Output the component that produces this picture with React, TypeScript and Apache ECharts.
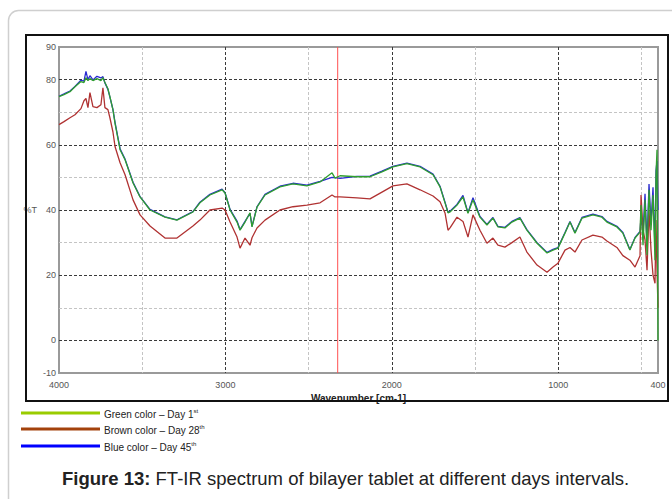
import React, { useEffect, useRef } from "react";
import * as echarts from "echarts";

// Wavenumber (cm-1), descending
const wavenumbers = [
  4000, 3970, 3934, 3904, 3868, 3850, 3838, 3826, 3814, 3796, 3772, 3748, 3736, 3724, 3706, 3694, 3676, 3663, 3633, 3603, 3555, 3513, 3453, 3363, 3291, 3195,
  3153, 3093, 3020, 3002, 2972, 2930, 2912, 2882, 2852, 2840, 2810, 2762, 2672, 2594, 2510, 2431, 2359, 2341, 2311, 2209, 2131, 2059, 1993, 1909, 1830, 1752, 1710, 1680, 1662,
  1650, 1608, 1572, 1542, 1512, 1470, 1428, 1392, 1362, 1320, 1278, 1230, 1188, 1127, 1067, 1031, 1001, 959, 929, 899, 857, 791, 737, 707, 647, 611, 569, 538, 508,
  502, 490, 478, 466, 454, 442, 430, 418, 412, 406, 400,
];

// %T, Day 1 (green)
const day1 = [
  74.8, 75.4, 76.3, 77.8, 79.4, 79.1, 80.6, 79.7, 80.3, 79.7, 80.3, 79.7, 80.6, 79.1, 77.2, 74.8, 70.8, 66.5, 58.5, 55.4, 48.3, 44.0, 40.0, 37.8, 36.9, 39.4,
  42.2, 44.6, 46.2, 45.2, 40.0, 36.3, 33.8, 36.3, 39.1, 34.8, 40.9, 44.6, 47.1, 48.0, 47.4, 48.6, 51.4, 49.8, 50.5, 50.2, 50.2, 51.7, 53.2, 54.2, 53.2, 50.8, 47.1, 42.2, 39.1,
  39.4, 41.5, 44.0, 39.0, 43.1, 37.8, 35.4, 37.5, 34.8, 34.5, 36.3, 37.5, 33.8, 29.8, 26.8, 27.7, 28.3, 32.9, 36.3, 32.9, 37.5, 38.5, 37.8, 36.3, 34.8, 32.9, 27.7, 31.4, 33.2,
  41.5, 29.2, 43.1, 26.2, 46.2, 33.8, 44.6, 24.6, 50.8, 58.5, 0,
];

// %T, Day 28 (brown)
const day28 = [
  66.2, 67.1, 68.3, 69.2, 71.1, 73.5, 74.2, 71.4, 76.0, 71.7, 71.4, 72.3, 77.5, 71.4, 70.8, 68.3, 64.0, 59.4, 54.5, 50.8, 43.1, 38.5, 35.1, 31.4, 31.4, 35.1,
  36.9, 40.0, 40.6, 40.0, 36.3, 31.7, 28.3, 31.4, 29.2, 31.5, 34.5, 36.9, 40.0, 41.0, 41.5, 42.2, 44.6, 44.0, 44.0, 43.7, 43.4, 45.5, 47.4, 48.0, 46.2, 44.3, 42.5, 39.1, 33.8,
  34.5, 37.8, 36.5, 31.7, 38.5, 33.8, 29.8, 31.4, 29.2, 28.6, 30.0, 31.7, 27.1, 23.1, 20.9, 22.5, 23.7, 27.7, 28.5, 27.1, 30.8, 32.3, 31.7, 30.5, 28.5, 26.0, 24.6, 22.5, 26.0,
  44.6, 33.8, 30.8, 21.5, 40.0, 27.7, 20.0, 17.5, 36.9, 21.5, 10.0,
];

// %T, Day 45 (blue)
const day45 = [
  74.9, 75.6, 76.5, 77.9, 79.8, 79.5, 82.5, 80.0, 81.2, 79.9, 81.0, 80.5, 80.9, 79.0, 77.0, 74.6, 70.9, 66.8, 58.8, 55.6, 48.5, 44.1, 40.2, 37.9, 37.0, 39.5,
  42.4, 44.8, 46.4, 45.3, 40.2, 36.6, 34.0, 36.5, 39.0, 35.0, 41.0, 44.8, 47.3, 48.2, 47.6, 48.8, 50.0, 49.9, 49.7, 50.3, 50.4, 51.9, 53.4, 54.4, 53.4, 51.0, 47.3, 42.4, 39.3,
  39.6, 41.7, 44.5, 39.2, 43.8, 38.0, 35.6, 37.7, 35.0, 34.7, 36.5, 37.7, 34.0, 30.0, 27.0, 27.9, 28.5, 33.1, 36.5, 33.1, 37.7, 38.7, 38.0, 36.5, 35.0, 33.1, 27.9, 31.6, 33.4,
  38.0, 33.0, 45.0, 30.0, 48.0, 36.0, 47.0, 28.0, 52.0, 55.0, 40.0,
];

const cursorWavenumber = 2325;

const xLabels = [4000, 3000, 2000, 1000, 400];
const xMajorGrid = [3000, 2000, 1000];
const xMinorGrid = [3500, 2500, 1500, 500];
const yLabels = [-10, 0, 20, 40, 60, 80, 90];
const yMajorGrid = [0, 20, 40, 60, 80];
const yMinorGrid = [10, 30, 50, 70];

const legendItems = [
  { name: "Green color – Day 1", sup: "st", color: "#99cc00" },
  { name: "Brown color – Day 28", sup: "th", color: "#a3420c" },
  { name: "Blue color – Day 45", sup: "th", color: "#0000ff" },
];

const X_MIN = 400, X_MAX = 4000, X_STEP = 100;
const Y_MIN = -10, Y_MAX = 90, Y_STEP = 10;

const MAJOR = "#3a3a3a";
const MINOR = "#c4c4c4";

function gridColors(min: number, max: number, step: number, major: number[], minor: number[]) {
  const out: string[] = [];
  for (let v = min; v <= max + 1e-9; v += step) {
    if (major.includes(v)) out.push(MAJOR);
    else if (minor.includes(v)) out.push(MINOR);
    else out.push("transparent");
  }
  return out;
}

export default function App() {
  const ref = useRef<HTMLDivElement>(null);
  useEffect(() => {
    const chart = echarts.init(ref.current!, null, { renderer: "svg" });
    const narrow = "Liberation Sans Narrow, Liberation Sans, Arial, sans-serif";
    const sans = "Liberation Sans, Arial, sans-serif";
    const legendY = [413, 429, 446];
    chart.setOption({
      animation: false,
      backgroundColor: "#fff",
      grid: {
        left: 59, top: 47, right: 14, bottom: 126,
        show: true, borderColor: "#9a9a9a", borderWidth: 2, backgroundColor: "#fff",
      },
      xAxis: {
        type: "value", min: X_MIN, max: X_MAX, interval: X_STEP, inverse: true,
        axisLine: { show: false }, axisTick: { show: false },
        axisLabel: {
          formatter: (v: number) => (xLabels.includes(v) ? String(v) : ""),
          color: "#555", fontSize: 9, fontFamily: narrow, margin: 7,
          showMinLabel: true, showMaxLabel: true,
        },
        splitLine: {
          show: true,
          lineStyle: { color: gridColors(X_MIN, X_MAX, X_STEP, xMajorGrid, xMinorGrid), type: [3, 2], width: 1 },
        },
        name: "Wavenumber [cm-1]", nameLocation: "middle", nameGap: 18,
        nameTextStyle: { fontSize: 10, color: "#222", fontFamily: narrow, fontWeight: "bold" },
      },
      yAxis: {
        type: "value", min: Y_MIN, max: Y_MAX, interval: Y_STEP,
        axisLine: { show: false }, axisTick: { show: false },
        axisLabel: {
          formatter: (v: number) => (yLabels.includes(v) ? String(v) : ""),
          color: "#555", fontSize: 9, fontFamily: narrow, margin: 3,
          showMinLabel: true, showMaxLabel: true,
        },
        splitLine: {
          show: true,
          lineStyle: { color: gridColors(Y_MIN, Y_MAX, Y_STEP, yMajorGrid, yMinorGrid), type: [3, 2], width: 1 },
        },
        name: "%T", nameLocation: "middle", nameRotate: 0, nameGap: 20,
        nameTextStyle: { fontSize: 9, color: "#555", fontFamily: narrow },
      },
      series: [
        {
          type: "line", name: "cursor", data: [[cursorWavenumber, Y_MIN], [cursorWavenumber, Y_MAX]],
          showSymbol: false, symbol: "none", lineStyle: { color: "#ff5050", width: 1 }, z: 2, silent: true,
        },
        {
          type: "line", name: "Day 45", data: wavenumbers.map((w, i) => [w, day45[i]]),
          showSymbol: false, symbol: "none", lineStyle: { color: "#2a2ad0", width: 1.3 }, z: 3,
        },
        {
          type: "line", name: "Day 28", data: wavenumbers.map((w, i) => [w, day28[i]]),
          showSymbol: false, symbol: "none", lineStyle: { color: "#b03232", width: 1.3 }, z: 3,
        },
        {
          type: "line", name: "Day 1", data: wavenumbers.map((w, i) => [w, day1[i]]),
          showSymbol: false, symbol: "none", lineStyle: { color: "#2f9e2f", width: 1.3 }, z: 4,
        },
      ],
      graphic: [
        {
          type: "rect", z: -10, silent: true,
          shape: { x: 8.5, y: 10.5, width: 720, height: 540, r: 10 },
          style: { fill: "none", stroke: "#cfcfcf", lineWidth: 1.5 },
        },
        {
          type: "rect", z: 100, silent: true,
          shape: { x: 26, y: 35, width: 642, height: 366 },
          style: { fill: "none", stroke: "#111", lineWidth: 2 },
        },
        ...legendItems.flatMap((it, i) => [
          {
            type: "line", silent: true,
            shape: { x1: 21, y1: legendY[i], x2: 100, y2: legendY[i] },
            style: { stroke: it.color, lineWidth: 3 },
          },
          {
            type: "text", silent: true, x: 104, y: legendY[i] + 1,
            style: {
              text: `${it.name}{sup|${it.sup}}`,
              fontSize: 10, fontFamily: sans, fill: "#222", verticalAlign: "middle",
              rich: { sup: { fontSize: 6, fill: "#222", verticalAlign: "top", padding: [0, 0, 6, 0] } },
            },
          },
        ]),
        {
          type: "text", silent: true, x: 62, y: 478,
          style: {
            text: "{b|Figure 13:} FT-IR spectrum of bilayer tablet at different days intervals.",
            fontSize: 18.5, fontFamily: sans, fill: "#222", verticalAlign: "middle",
            rich: { b: { fontSize: 18.5, fontFamily: sans, fontWeight: "bold", fill: "#222" } },
          },
        },
      ],
    });
    return () => chart.dispose();
  }, []);
  return <div ref={ref} style={{ position: "absolute", left: 0, top: 0, width: 672, height: 499 }} />;
}
